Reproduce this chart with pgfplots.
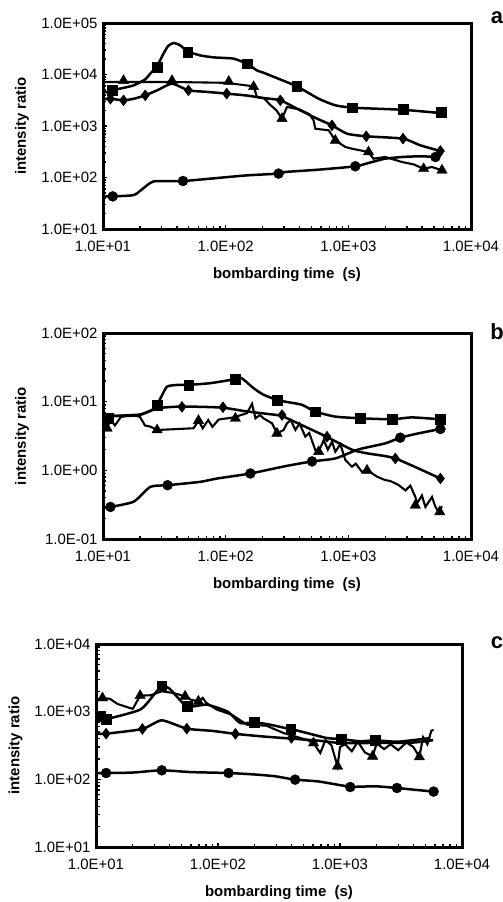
\documentclass[border=0pt]{standalone}
\usepackage{fontspec}
\setmainfont{Liberation Sans}
\usepackage{pgfplots}
\pgfplotsset{compat=1.18}

\pgfplotsset{
  panel/.style={
    scale only axis,
    xmin=10, xmax=10000,
    axis line style={line width=3bp},
    tick align=inside, xtick pos=bottom, ytick pos=left,
    major tick length=4.5bp, minor tick length=3.5bp,
    every tick/.style={black, line width=1.4bp},
    every minor tick/.style={black, line width=1.4bp},
    xtick={10,100,1000,10000},
    xticklabels={1.0E+01,1.0E+02,1.0E+03,1.0E+04},
    minor xtick={20,30,40,50,60,70,80,90,200,300,400,500,600,700,800,900,2000,3000,4000,5000,6000,7000,8000,9000},
    ticklabel style={font=\fontsize{15}{15}\selectfont},
    xticklabel shift=9bp,
    yticklabel shift=2bp,
    label style={font=\bfseries\fontsize{15}{16}\selectfont},
    xlabel={bombarding time\ \ (s)}, ylabel={intensity ratio},
    xlabel style={at={(axis description cs:0.5,-0.223)}, anchor=center},
    ylabel style={at={(axis description cs:-0.22,0.5)}, anchor=center},
  },
  ln/.style={black, line width=2.5bp, no markers, smooth, tension=0.35},
  noisy/.style={black, line width=2.1bp, no markers, sharp plot},
  sq/.style={only marks, black, mark=square*, mark size=4.9bp, mark options={fill=black}},
  ci/.style={only marks, black, mark=*, mark size=5bp, mark options={fill=black}},
  di/.style={only marks, black, mark=diamond*, mark size=5.5bp, mark options={fill=black}},
  tr/.style={only marks, black, mark=triangle*, mark size=6bp, mark options={fill=black}},
}

\begin{document}
\begin{tikzpicture}
\useasboundingbox (0,0) rectangle (503bp,-902bp);

% ---------------- panel a ----------------
\begin{loglogaxis}[panel, at={(103bp,-229bp)}, anchor=south west,
  width=368bp, height=206bp, ymin=10, ymax=100000,
  ytick={10,100,1000,10000,100000},
  yticklabels={1.0E+01,1.0E+02,1.0E+03,1.0E+04,1.0E+05},
  minor ytick={20,30,40,50,60,70,80,90,200,300,400,500,600,700,800,900,2000,3000,4000,5000,6000,7000,8000,9000,20000,30000,40000,50000,60000,70000,80000,90000}]
% squares
\addplot[ln] coordinates {(10,4500) (10.8,4570) (11.8,4930) (14.7,5500) (17.8,6160) (22,8000) (24.3,10400) (27.6,14500) (31,25000) (34,36000) (37.7,40900) (42.6,36800) (49,28000) (62,23500) (80,21500) (116,20300) (149,16200) (180,12000) (204,10800) (279,8000) (380,5900) (573,3390) (783,2520) (1070,2270) (1670,2170) (2740,2070) (3740,1950) (5600,1790)};
\addplot[sq] coordinates {(11.8,4930) (27.6,14000) (49,27400) (149,16200) (380,5900) (1070,2270) (2790,2140) (5730,1840)};
% circles
\addplot[ln] coordinates {(10,42) (10.8,43) (12,43) (17.8,45.6) (21,60) (25.9,84) (44.9,85.5) (75,95) (149,110) (270,119) (306,128) (573,142) (1140,165) (1560,200) (2000,232) (2740,250) (3740,258) (5130,255) (5800,290)};
\addplot[ci] coordinates {(12,43) (44.9,85.5) (270,119) (1140,165) (5130,250)};
% diamonds
\addplot[ln] coordinates {(10,3300) (11.5,3390) (14.7,3150) (18,3400) (22.1,3940) (28,5000) (36.5,6640) (49.7,4930) (70,4600) (102,4250) (150,3900) (200,3500) (279,3150) (406,2010) (556,1390) (736,1030) (975,710) (1400,631) (2790,568) (3860,422) (5630,327)};
\addplot[di] coordinates {(11.5,3390) (14.7,3150) (22.1,3940) (49.7,4930) (102,4250) (279,3150) (736,1030) (1400,631) (2790,568) (5630,327)};
% triangles
\addplot[noisy] coordinates {(10,7150) (14.7,7150) (36.5,7150) (100,6900) (169,5900) (180,3660) (204,3500) (230,2600) (260,2000) (288,1390) (316,2340) (400,2100) (480,1700) (521,1290) (538,887) (692,824) (783,525) (946,391) (1070,363) (1460,313) (1600,232) (2000,250) (2740,200) (3400,180) (4110,148) (4800,160) (5800,138)};
\addplot[tr] coordinates {(14.7,7600) (36.5,7600) (106,7300) (169,5800) (288,1390) (783,525) (1460,313) (4110,148) (5800,138)};
\end{loglogaxis}
\node[font=\bfseries\fontsize{22}{22}\selectfont] at (497bp,-18bp) {a};

% ---------------- panel b ----------------
\begin{loglogaxis}[panel, at={(103bp,-539bp)}, anchor=south west,
  width=368bp, height=206bp, ymin=0.1, ymax=100,
  ytick={0.1,1,10,100},
  yticklabels={1.0E-01,1.0E+00,1.0E+01,1.0E+02},
  minor ytick={0.2,0.3,0.4,0.5,0.6,0.7,0.8,0.9,2,3,4,5,6,7,8,9,20,30,40,50,60,70,80,90}]
% squares
\addplot[ln] coordinates {(10,6.5) (12,6.2) (15,6.3) (20,6.5) (25,7.5) (27.6,9.0) (30,12) (33.3,16.6) (40,17.5) (49.9,17.6) (75,18.6) (120,21.3) (135,22) (169,15.7) (204,12.6) (262,10.6) (306,10) (419,9.0) (538,7.16) (783,6.06) (1250,5.73) (2270,5.54) (3300,5.9) (5630,5.54)};
\addplot[sq] coordinates {(11,5.8) (27.6,9.0) (49.9,17.6) (120,21.3) (262,10.6) (538,7.16) (1250,5.73) (2270,5.54) (5630,5.54)};
% circles
\addplot[ln] coordinates {(10,0.28) (11.5,0.293) (17.8,0.35) (24.3,0.575) (33.6,0.608) (62,0.68) (85,0.76) (159,0.90) (306,1.15) (506,1.35) (783,1.49) (1213,2.02) (2000,2.47) (2650,2.99) (3740,3.46) (5630,4.0)};
\addplot[ci] coordinates {(11.5,0.293) (33.6,0.608) (159,0.90) (506,1.35) (2650,2.99) (5630,4.0)};
% diamonds
\addplot[ln] coordinates {(10,6.2) (15,6.2) (20,6.4) (27.6,8.0) (44,8.5) (93,8.2) (149,7.2) (279,6.3) (306,5.9) (646,3.16) (1070,2.0) (1420,1.77) (2415,1.49) (5630,0.76)};
\addplot[di] coordinates {(44,8.4) (95,8.3) (288,6.4) (670,3.09) (2415,1.49) (5630,0.76)};
% triangles
\addplot[noisy] coordinates {(10,5.0) (10.8,4.1) (11.5,5.5) (12.5,4.5) (14,6.0) (17.8,6.4) (20,6.0) (22,4.5) (24.3,4.33) (27.6,3.87) (54.8,4.1) (60,5.3) (65,4.1) (72,5.4) (78,4.3) (87.7,5.5) (116,5.9) (149,6.8) (164,9.3) (175,5.73) (190,6.4) (204,5.7) (239,4.84) (262,3.46) (297,3.87) (316,4.84) (340,5.4) (370,3.87) (400,4.8) (446,3.1) (480,3.5) (538,1.97) (573,1.87) (630,2.76) (680,2.0) (736,2.61) (783,1.87) (861,2.4) (946,1.41) (1070,1.13) (1150,1.25) (1291,0.95) (1400,1.0) (1500,0.95) (1713,0.81) (2000,0.72) (2200,0.7) (2570,0.61) (2920,0.51) (3200,0.60) (3520,0.41) (3630,0.33) (3980,0.43) (4250,0.293) (4810,0.41) (5100,0.3) (5440,0.248) (5800,0.30)};
\addplot[tr] coordinates {(10.8,4.1) (27.6,3.87) (60,5.3) (120,5.73) (262,3.46) (573,1.87) (1420,1.0) (3520,0.31) (5560,0.248)};
\end{loglogaxis}
\node[font=\bfseries\fontsize{22}{22}\selectfont] at (497bp,-332bp) {b};

% ---------------- panel c ----------------
\begin{loglogaxis}[panel, at={(96bp,-847bp)}, anchor=south west,
  width=366bp, height=203bp, ymin=10, ymax=10000,
  ytick={10,100,1000,10000},
  yticklabels={1.0E+01,1.0E+02,1.0E+03,1.0E+04},
  minor ytick={20,30,40,50,60,70,80,90,200,300,400,500,600,700,800,900,2000,3000,4000,5000,6000,7000,8000,9000},
  xlabel style={at={(axis description cs:0.5,-0.227)}, anchor=center}]
% circles
\addplot[ln] coordinates {(10,124) (12.1,124) (20,126) (34.6,136) (60,128) (122,124) (200,118) (294,111) (429,99) (667,93) (1213,78) (1945,79) (2930,74.5) (4140,70) (5850,66)};
\addplot[ci] coordinates {(12.1,124) (34.6,136) (122,124) (429,99) (1213,77) (2930,74.5) (5850,66)};
% diamonds
\addplot[ln] coordinates {(10,470) (12.1,473) (24,555) (34.6,745) (55.5,561) (90,520) (139,470) (234,430) (400,400) (700,370) (1000,345) (2000,345) (4000,350) (5800,380)};
\addplot[di] coordinates {(12.1,473) (24,555) (55.5,561) (139,470) (400,410)};
% squares
\addplot[ln] coordinates {(10,853) (12.1,780) (23,1072) (30,1800) (34.6,2420) (40,2200) (55.5,1200) (81,1268) (120,1000) (152,680) (198,695) (267,643) (355,574) (395,555) (535,484) (780,408) (1016,394) (1465,365) (1945,377) (3000,360) (5500,408)};
\addplot[sq] coordinates {(10.8,853) (12.1,780) (34.6,2420) (55.5,1200) (198,695) (395,555) (1016,394) (1945,377)};
% triangles
\addplot[noisy] coordinates {(10,1500) (11.3,1592) (13,1550) (15,1300) (17.9,1172) (20,1100) (23,1722) (28,1750) (34.6,2000) (43,1887) (53.7,1687) (60,1500) (69,1422) (75,1600) (80,1350) (98,1072) (130,900) (172,643) (250,620) (344,484) (450,420) (540,380) (607,344) (689,245) (760,380) (850,320) (955,156) (1000,300) (1100,330) (1250,260) (1400,360) (1600,250) (1850,219) (2000,340) (2300,280) (2600,330) (3000,270) (3500,350) (4000,300) (4470,214) (4800,420) (5200,330) (5600,520) (5850,542)};
\addplot[tr] coordinates {(11.3,1592) (23,1722) (53.7,1687) (69,1422) (607,344) (955,156) (1850,219) (4470,214)};
\end{loglogaxis}
\node[font=\bfseries\fontsize{22}{22}\selectfont] at (497bp,-643bp) {c};
\end{tikzpicture}
\end{document}
